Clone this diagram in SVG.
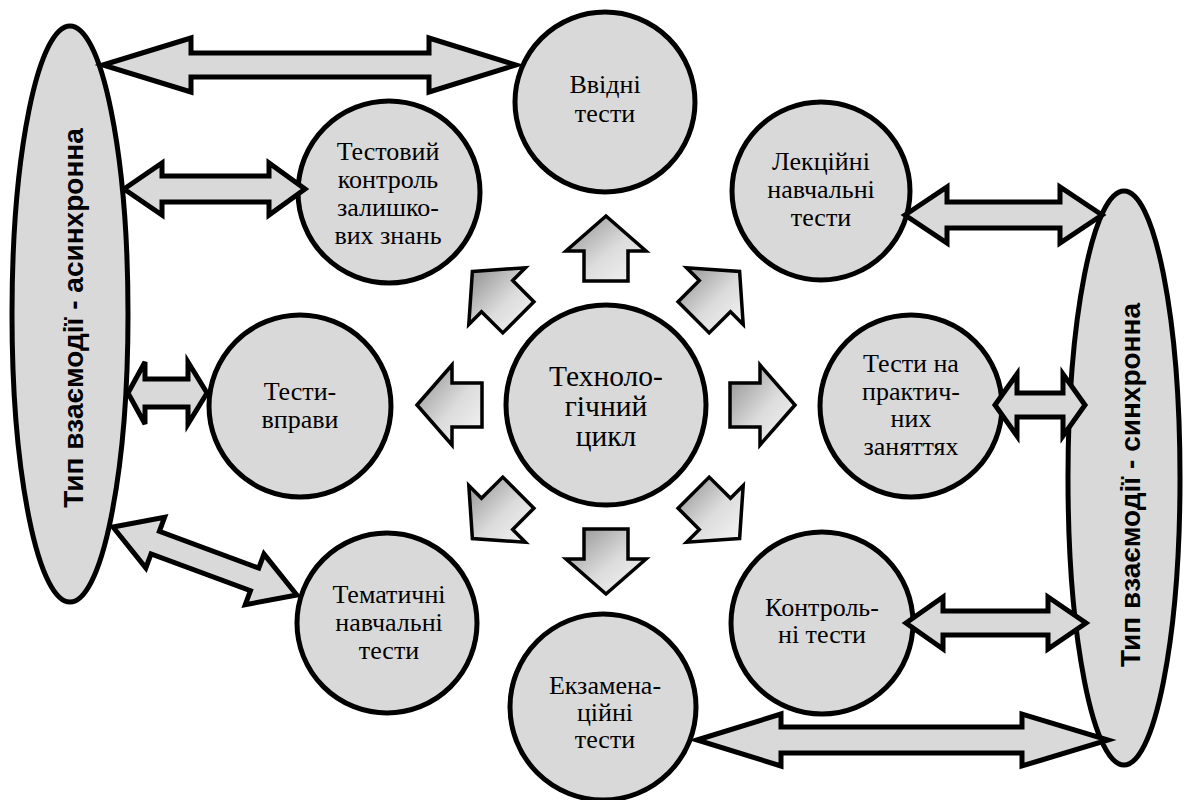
<svg xmlns="http://www.w3.org/2000/svg" width="1185" height="800" viewBox="0 0 1185 800">
  <defs>
    <linearGradient id="blockFill" x1="0" y1="0" x2="1" y2="1">
      <stop offset="0" stop-color="#8c8c8c"/>
      <stop offset="0.55" stop-color="#dcdcdc"/>
      <stop offset="1" stop-color="#f6f6f6"/>
    </linearGradient>
    <style>
      .node { fill: #d9d9d9; stroke: #000; stroke-width: 5; }
      .lbl { font-family: "Liberation Serif", "Times New Roman", serif; font-size: 26px; fill: #000; text-anchor: middle; }
      .lbl-c { font-size: 29.5px; }
      .side { font-family: "Liberation Sans", Arial, sans-serif; font-size: 28px; font-weight: bold; fill: #000; text-anchor: middle; }
      .dbl { fill: #d9d9d9; stroke: #000; stroke-width: 5; stroke-linejoin: miter; }
      .ray { fill: url(#blockFill); stroke: #000; stroke-width: 3.5; stroke-linejoin: miter; }
    </style>
  </defs>
  <rect width="1185" height="800" fill="#fff"/>

  <!-- interaction types -->
  <g id="async">
    <ellipse class="node" cx="70" cy="314" rx="58" ry="288"/>
    <text class="side" transform="translate(83,318) rotate(-90)">Тип взаємодії - асинхронна</text>
  </g>
  <g id="sync">
    <ellipse class="node" cx="1124" cy="478" rx="56" ry="287"/>
    <text class="side" transform="translate(1140,485) rotate(-90)">Тип взаємодії - синхронна</text>
  </g>

  <!-- test kinds -->
  <g id="intro">
    <circle class="node" cx="605" cy="102" r="90"/>
    <text class="lbl" x="605" y="93">Ввідні</text>
    <text class="lbl" x="605" y="122">тести</text>
  </g>
  <g id="residual">
    <circle class="node" cx="389" cy="192" r="91"/>
    <text class="lbl" x="388" y="160">Тестовий</text>
    <text class="lbl" x="388" y="188">контроль</text>
    <text class="lbl" x="388" y="216">залишко-</text>
    <text class="lbl" x="388" y="244">вих знань</text>
  </g>
  <g id="lecture">
    <circle class="node" cx="821" cy="191" r="89"/>
    <text class="lbl" x="821" y="170">Лекційні</text>
    <text class="lbl" x="821" y="198">навчальні</text>
    <text class="lbl" x="821" y="226">тести</text>
  </g>
  <g id="exercises">
    <circle class="node" cx="300" cy="406" r="91"/>
    <text class="lbl" x="300" y="400">Тести-</text>
    <text class="lbl" x="300" y="428">вправи</text>
  </g>
  <g id="cycle">
    <circle class="node" cx="606" cy="405" r="100"/>
    <text class="lbl lbl-c" x="606" y="386">Техноло-</text>
    <text class="lbl lbl-c" x="606" y="416">гічний</text>
    <text class="lbl lbl-c" x="606" y="446">цикл</text>
  </g>
  <g id="practice">
    <circle class="node" cx="911" cy="406" r="91"/>
    <text class="lbl" x="911" y="372">Тести на</text>
    <text class="lbl" x="911" y="400">практич-</text>
    <text class="lbl" x="911" y="427">них</text>
    <text class="lbl" x="911" y="455">заняттях</text>
  </g>
  <g id="thematic">
    <circle class="node" cx="387" cy="623" r="90"/>
    <text class="lbl" x="389" y="603">Тематичні</text>
    <text class="lbl" x="389" y="631">навчальні</text>
    <text class="lbl" x="389" y="659">тести</text>
  </g>
  <g id="control">
    <circle class="node" cx="822" cy="623" r="91"/>
    <text class="lbl" x="822" y="616">Контроль-</text>
    <text class="lbl" x="822" y="643">ні тести</text>
  </g>
  <g id="exam">
    <circle class="node" cx="603" cy="707" r="93"/>
    <text class="lbl" x="605" y="694">Екзамена-</text>
    <text class="lbl" x="605" y="721">ційні</text>
    <text class="lbl" x="605" y="748">тести</text>
  </g>

  <g id="connectors">
    <!-- block arrows out of the cycle -->
    <polygon class="ray" points="606,216 646,251 628,251 628,281 584,281 584,251 566,251"/>
    <polygon class="ray" points="739.6,271.4 743.2,324.4 730.5,311.7 709.2,332.9 678.1,301.8 699.3,280.5 686.6,267.8"/>
    <polygon class="ray" points="795,405 760,445 760,427 730,427 730,383 760,383 760,365"/>
    <polygon class="ray" points="739.6,538.6 686.6,542.2 699.3,529.5 678.1,508.2 709.2,477.1 730.5,498.3 743.2,485.6"/>
    <polygon class="ray" points="606,594 566,559 584,559 584,529 628,529 628,559 646,559"/>
    <polygon class="ray" points="472.4,538.6 468.8,485.6 481.5,498.3 502.8,477.1 533.9,508.2 512.7,529.5 525.4,542.2"/>
    <polygon class="ray" points="417,405 452,365 452,383 482,383 482,427 452,427 452,445"/>
    <polygon class="ray" points="472.4,271.4 525.4,267.8 512.7,280.5 533.9,301.8 502.8,332.9 481.5,311.7 468.8,324.4"/>

    <!-- two-way links to the interaction types -->
    <polygon class="dbl" points="103,65 191,38 191,53 429,53 429,38 516,65 429,92 429,77 191,77 191,92"/>
    <polygon class="dbl" points="124,189 162,163 162,176 269,176 269,163 305,189 269,215 269,202 162,202 162,215"/>
    <polygon class="dbl" points="128,393 145,362 145,379 188,379 188,362 207,393 188,424 188,407 145,407 145,424"/>
    <polygon class="dbl" transform="translate(113,527) rotate(20.3)" points="0,0 45,-27 45,-12 151,-12 151,-27 196,0 151,27 151,12 45,12 45,27"/>
    <polygon class="dbl" points="905,215 947,187 947,202 1060,202 1060,187 1102,215 1060,243 1060,228 947,228 947,243"/>
    <polygon class="dbl" points="995,405 1017,374 1017,393 1063,393 1063,374 1085,405 1063,436 1063,417 1017,417 1017,436"/>
    <polygon class="dbl" points="906,623 943,597 943,611 1048,611 1048,597 1086,623 1048,649 1048,635 943,635 943,649"/>
    <polygon class="dbl" points="697,740 781,714 781,727 1022,727 1022,714 1108,740 1022,766 1022,753 781,753 781,766"/>
  </g>
</svg>
